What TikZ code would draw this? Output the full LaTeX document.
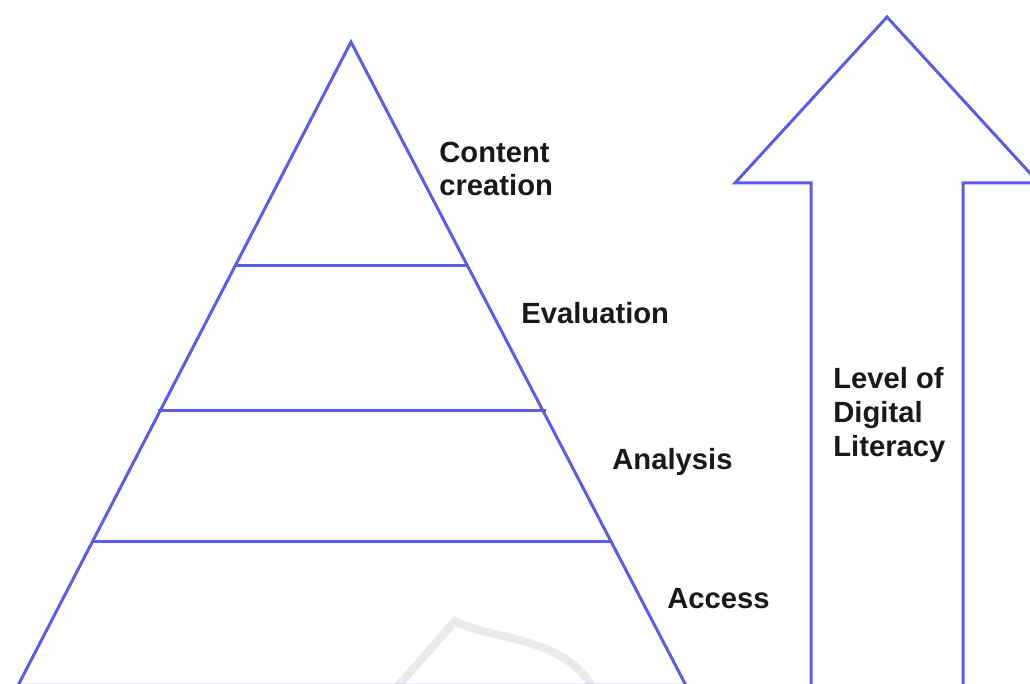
\documentclass[tikz,border=0pt]{standalone}
\usepackage{fontspec}
\setmainfont{Liberation Sans}
\definecolor{lineblue}{RGB}{92,92,228}
\definecolor{wmgrey}{RGB}{234,234,234}
\tikzset{
  outline/.style={draw=lineblue, line width=1.5pt, line join=miter},
  lbl/.style={anchor=west, align=left, inner sep=0pt, font=\fontsize{14.6}{16.9}\selectfont\bfseries, text=black!90},
}
\begin{document}
\begin{tikzpicture}[x=0.5pt,y=-0.5pt]
\useasboundingbox (0,0) rectangle (1030,684);
% watermark
\draw[wmgrey, line width=4pt] (398,686) -- (455,621) .. controls (490,640) and (560,635) .. (592,686);
% pyramid
\coordinate (apex) at (351,42);
\coordinate (bl) at (18,685.5);
\coordinate (br) at (686,685.5);
\draw[outline] (bl) -- (apex) -- (br) -- cycle;
\draw[outline] (236,266) -- (467,266);
\draw[outline] (158,411) -- (546,411);
\draw[outline] (92,542) -- (612,542);
% arrow
\draw[outline] (811,688) -- (811,183) -- (735,183) -- (887,17) -- (1039,183) -- (963,183) -- (963,688);
\draw[outline] (811,685.5) -- (963,685.5);
% labels
\node[lbl] (cc) at (439,169) {Content\\creation};
\node[lbl] (ev) at (521,313) {Evaluation};
\node[lbl] (an) at (612,462) {Analysis};
\node[lbl] (ac) at (667,599) {Access};
\node[lbl] (lv) at (833,415) {Level of\\Digital\\Literacy};
\end{tikzpicture}
\end{document}
